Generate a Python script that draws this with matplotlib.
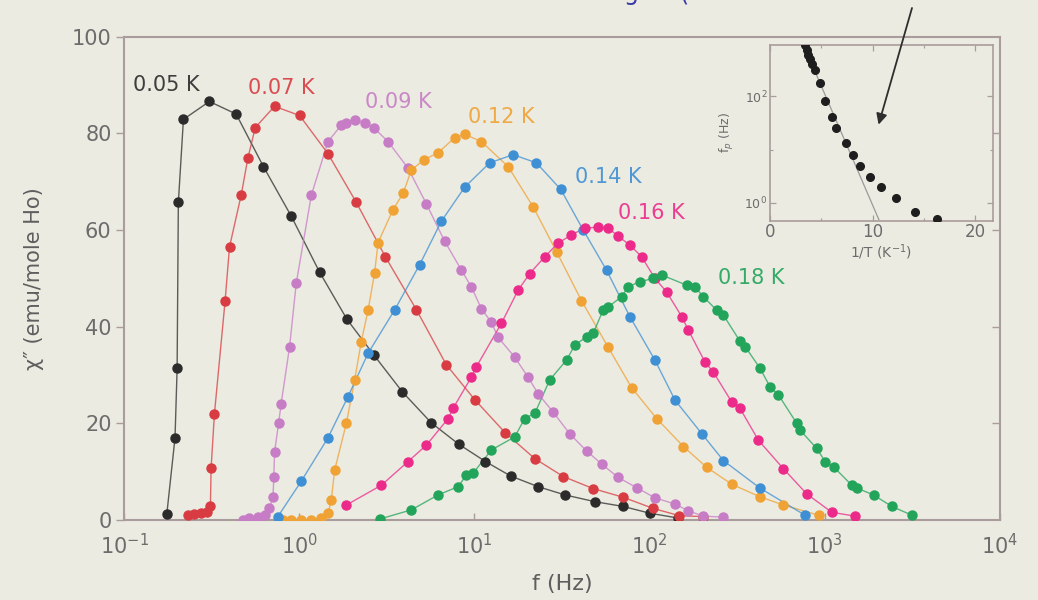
import numpy as np
import matplotlib
matplotlib.use("Agg")
import matplotlib.pyplot as plt
from matplotlib.ticker import FixedLocator, NullFormatter, NullLocator

plt.rcParams['font.family'] = ['DejaVu Sans']

# chi'' vs frequency, one curve per temperature (frequency stored as log10 f in Hz)
labels = ["0.05 K", "0.07 K", "0.09 K", "0.12 K", "0.14 K", "0.16 K", "0.18 K"]
colors = ["#2b2b2b", "#d83c42", "#c77cc6", "#f0a234", "#3e8fd4", "#ec2a8a", "#22a45a"]

logf_005 = [-0.756, -0.709, -0.697, -0.690, -0.661, -0.513, -0.360, -0.204, -0.046, 0.116,
            0.273, 0.427, 0.589, 0.754, 0.910, 1.063, 1.207, 1.364, 1.516, 1.687, 1.850,
            2.002, 2.164]
chi_005 = [1.2, 17.0, 31.4, 65.7, 82.9, 86.6, 84.0, 73.1, 62.9, 51.3,
           41.5, 34.1, 26.5, 20.1, 15.7, 12.1, 9.1, 6.9, 5.2, 3.8, 2.8,
           1.4, 0.4]

logf_007 = [-0.633, -0.598, -0.560, -0.526, -0.507, -0.503, -0.484, -0.423, -0.398, -0.331,
            -0.293, -0.251, -0.141, 0.002, 0.164, 0.326, 0.491, 0.669, 0.840, 1.002,
            1.177, 1.345, 1.507, 1.678, 1.850, 2.020, 2.170, 2.307]
chi_007 = [1.0, 1.2, 1.4, 1.6, 3.0, 10.8, 22.0, 45.4, 56.5, 67.3,
           74.9, 81.2, 85.6, 83.7, 75.8, 65.7, 54.5, 43.5, 32.1, 24.9,
           18.0, 12.7, 9.0, 6.5, 4.7, 2.4, 0.9, 0.7]

logf_009 = [-0.322, -0.284, -0.236, -0.198, -0.170, -0.150, -0.145, -0.141, -0.118, -0.103,
            -0.055, -0.017, 0.069, 0.164, 0.240, 0.269, 0.316, 0.373, 0.427, 0.507,
            0.621, 0.726, 0.830, 0.926, 0.983, 1.040, 1.097, 1.135, 1.230, 1.307,
            1.364, 1.450, 1.545, 1.640, 1.726, 1.821, 1.926, 2.030, 2.145, 2.221,
            2.307, 2.421]
chi_009 = [0.1, 0.4, 0.6, 1.0, 2.4, 4.8, 8.8, 14.0, 20.0, 24.1,
           35.9, 49.0, 67.2, 78.3, 81.7, 82.2, 82.8, 82.2, 81.1, 78.3,
           72.8, 65.4, 57.7, 51.7, 48.2, 43.7, 40.9, 37.8, 33.7, 29.5,
           26.1, 22.3, 17.8, 14.3, 11.6, 8.8, 6.7, 4.6, 3.3, 1.9,
           0.8, 0.6]

logf_012 = [-0.093, -0.046, 0.011, 0.069, 0.126, 0.164, 0.183, 0.202, 0.269, 0.316,
            0.354, 0.393, 0.430, 0.450, 0.535, 0.593, 0.640, 0.710, 0.793, 0.887,
            0.945, 1.040, 1.193, 1.335, 1.469, 1.611, 1.764, 1.897, 2.040, 2.193,
            2.326, 2.469, 2.630, 2.764, 2.964]
chi_012 = [0.1, 0.1, 0.1, 0.1, 0.4, 1.4, 4.1, 10.3, 20.0, 28.9,
           36.9, 43.4, 51.1, 57.4, 64.2, 67.6, 72.4, 74.5, 76.0, 79.1,
           79.8, 78.3, 73.1, 64.8, 55.5, 45.4, 35.7, 27.4, 21.0, 15.2,
           10.9, 7.4, 4.8, 3.1, 1.0]

logf_014 = [-0.122, 0.011, 0.164, 0.278, 0.393, 0.545, 0.687, 0.811, 0.945, 1.087,
            1.221, 1.354, 1.493, 1.621, 1.754, 1.887, 2.030, 2.145, 2.297, 2.421,
            2.630, 2.887]
chi_014 = [0.7, 8.0, 17.0, 25.5, 34.5, 43.5, 52.8, 61.8, 68.9, 73.9,
           75.6, 73.9, 68.4, 60.0, 51.7, 42.1, 33.1, 24.8, 17.9, 12.3,
           6.6, 1.0]

logf_016 = [0.269, 0.469, 0.621, 0.726, 0.850, 0.878, 0.983, 1.011, 1.154, 1.250,
            1.316, 1.402, 1.478, 1.554, 1.630, 1.707, 1.764, 1.821, 1.887, 1.954,
            2.030, 2.097, 2.183, 2.221, 2.316, 2.364, 2.469, 2.516, 2.621, 2.764,
            2.897, 3.040, 3.173]
chi_016 = [3.1, 7.2, 12.1, 15.5, 21.0, 23.1, 29.6, 31.7, 40.7, 47.6,
           51.0, 54.5, 57.3, 59.0, 60.4, 60.6, 60.4, 58.7, 56.9, 54.5,
           50.0, 47.2, 42.1, 39.3, 32.7, 30.6, 24.4, 23.1, 16.5, 10.6,
           5.4, 1.6, 0.8]

logf_018 = [0.459, 0.640, 0.793, 0.907, 0.954, 0.993, 1.097, 1.230, 1.287, 1.345,
            1.430, 1.526, 1.573, 1.640, 1.678, 1.735, 1.764, 1.840, 1.878, 1.945,
            2.021, 2.069, 2.211, 2.259, 2.307, 2.383, 2.421, 2.516, 2.545, 2.630,
            2.687, 2.735, 2.840, 2.859, 2.954, 3.002, 3.050, 3.154, 3.183, 3.278,
            3.383, 3.497]
chi_018 = [0.2, 2.1, 5.2, 6.9, 9.3, 9.7, 14.5, 17.2, 21.0, 22.1,
           29.0, 33.1, 36.2, 37.9, 38.6, 43.5, 44.1, 46.2, 48.3, 49.3,
           50.0, 50.7, 48.6, 48.2, 46.2, 43.4, 42.4, 37.0, 35.9, 31.4,
           27.6, 25.9, 20.0, 18.6, 14.8, 12.1, 11.0, 7.2, 6.6, 5.2,
           2.8, 1.0]

# where each temperature label sits (log10 f of its left edge, chi'')
label_logf = [-0.95, -0.293, 0.373, 0.964, 1.573, 1.821, 2.393]
label_chi = [90.0, 89.3, 86.5, 83.4, 71.0, 63.5, 50.0]

# inset: peak frequency vs inverse temperature
inv_T = [3.40, 3.56, 3.72, 3.88, 4.11, 4.37, 4.85, 5.34, 6.08, 6.47,
         7.44, 8.09, 8.80, 9.77, 10.8, 12.3, 14.1, 16.3]
f_peak = [933, 759, 603, 501, 407, 316, 178, 83, 41, 25,
          13.2, 7.9, 5.0, 3.1, 2.0, 1.23, 0.66, 0.50]
fit_inv_T = [3.2, 10.6]
fit_f = [1000, 0.48]

all_logf = [logf_005, logf_007, logf_009, logf_012, logf_014, logf_016, logf_018]
all_chi = [chi_005, chi_007, chi_009, chi_012, chi_014, chi_016, chi_018]

bg = "#ebebe1"
frame = "#aa9c9c"
tick_gray = "#6c6c6c"

fig = plt.figure(figsize=(10.38, 6), dpi=100, facecolor=bg)
ax = fig.add_axes([0.1195, 0.1333, 0.8439, 0.8055], facecolor=bg)

for lf, chi, c in zip(all_logf, all_chi, colors):
    f = 10 ** np.array(lf)
    ax.plot(f, chi, '-', color=c, lw=1.0, alpha=0.75, zorder=2)
    ax.plot(f, chi, 'o', color=c, ms=6.5, mec=c, zorder=3)

for name, lx, ly, c in zip(labels, label_logf, label_chi, colors):
    ax.text(10 ** lx, ly, name, color=c, fontsize=15, ha='left', va='center', alpha=0.9)

ax.set_xscale('log')
ax.set_xlim(1e-1, 1e4)
ax.set_ylim(0, 100)
ax.set_yticks([0, 20, 40, 60, 80, 100])
ax.xaxis.set_minor_locator(NullLocator())
ax.tick_params(axis='x', which='major', direction='in', length=5, width=1.0,
               color=frame, labelsize=15, labelcolor=tick_gray, pad=9)
ax.tick_params(axis='y', which='major', direction='out', length=6, width=1.0,
               color=frame, labelsize=15, labelcolor=tick_gray, pad=3)
for side in ax.spines.values():
    side.set_color(frame)
    side.set_linewidth(1.5)

# short inward ticks on the right frame
ax_r = ax.secondary_yaxis('right')
ax_r.set_yticks([20, 40, 60, 80])
ax_r.tick_params(direction='in', length=6, width=1.0, color=frame, labelright=False)
ax_r.spines['right'].set_visible(False)

ax.set_xlabel("f (Hz)", fontsize=16, color="#5e5e5e", labelpad=12)
ax.set_ylabel("χ″ (emu/mole Ho)", fontsize=15, color="#5e5e5e", labelpad=20)

# inset
ins = fig.add_axes([0.7418, 0.6322, 0.2148, 0.2928], facecolor=bg)
ins.plot(fit_inv_T, fit_f, '-', color="#9a9a9a", lw=0.9, zorder=2)
ins.plot(inv_T, f_peak, 'o', color="#1e1e1e", ms=5.5, zorder=3)
ins.set_yscale('log')
ins.set_xlim(0, 21.7)
ins.set_ylim(0.46, 930)
ins.set_xticks([0, 10, 20])
ins.xaxis.set_minor_locator(FixedLocator([5, 15]))
ins.yaxis.set_major_locator(FixedLocator([1, 100]))
ins.yaxis.set_minor_locator(FixedLocator([10]))
ins.yaxis.set_minor_formatter(NullFormatter())
ins.set_yticklabels(["10$^0$", "10$^2$"])
ins.tick_params(which='both', direction='in', top=True, right=True, color=frame,
                labelcolor=tick_gray)
ins.tick_params(which='major', length=4, width=0.9)
ins.tick_params(which='minor', length=2.5, width=0.8)
ins.tick_params(axis='x', labelsize=12, pad=2)
ins.tick_params(axis='y', labelsize=9, pad=2)
for side in ins.spines.values():
    side.set_color(frame)
    side.set_linewidth(1.2)
ins.set_xlabel("1/T (K$^{-1}$)", fontsize=10, color=tick_gray, labelpad=1)
ins.set_ylabel("f$_p$ (Hz)", fontsize=9, color=tick_gray, labelpad=6)

ins.annotate("", xy=(10.57, 29.5), xycoords='data',
             xytext=(912 / 1038, 1 - 8 / 600), textcoords='figure fraction',
             arrowprops=dict(arrowstyle='-|>', color="#2e2e2e", lw=1.3,
                             mutation_scale=16, shrinkA=0, shrinkB=0),
             annotation_clip=False)

# heading text running off the top edge: only its descenders show
fig.text(0.601, 1.0, "g", color="#3838aa", fontsize=17, ha='left', va='baseline')
fig.text(0.655, 1.0, "(", color="#3838aa", fontsize=17, ha='left', va='baseline')

fig.savefig("out.png", dpi=100, facecolor=bg)
